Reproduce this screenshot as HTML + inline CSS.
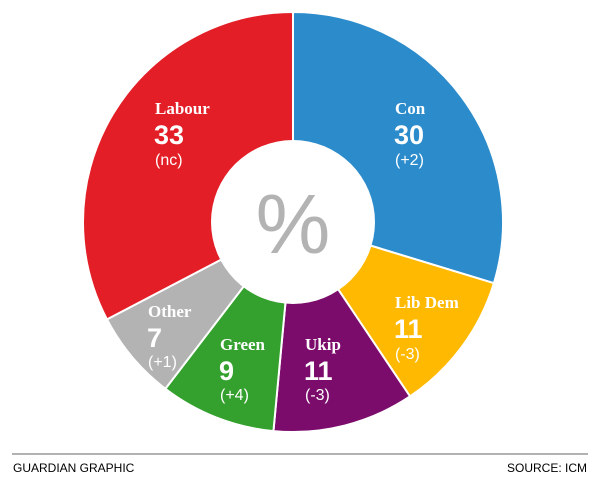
<!DOCTYPE html>
<html><head><style>
html,body{margin:0;padding:0;background:#fff;}
svg{display:block;}
.l{font-family:"Liberation Serif",serif;font-weight:bold;font-size:17px;fill:#fff;}
.n{font-family:"Liberation Sans",sans-serif;font-weight:bold;font-size:27px;fill:#fff;}
.c{font-family:"Liberation Sans",sans-serif;font-size:16px;fill:#fff;}
.f{font-family:"Liberation Sans",sans-serif;font-size:12px;fill:#000;}
</style></head><body>
<svg id="s" width="600" height="480" viewBox="0 0 600 480">
<g id="segs"></g>
<circle cx="293" cy="222" r="82" fill="#fff"/>
<text x="293" y="253" text-anchor="middle" font-family="Liberation Sans,sans-serif" font-size="84" fill="#b3b3b3">%</text>
<text class="l" x="155" y="114">Labour</text><text class="n" x="154" y="144">33</text><text class="c" x="155" y="165">(nc)</text>
<text class="l" x="395" y="114">Con</text><text class="n" x="394" y="144">30</text><text class="c" x="395" y="165">(+2)</text>
<text class="l" x="395" y="308">Lib Dem</text><text class="n" x="394" y="338">11</text><text class="c" x="395" y="359">(-3)</text>
<text class="l" x="305" y="350">Ukip</text><text class="n" x="304" y="380">11</text><text class="c" x="305" y="400">(-3)</text>
<text class="l" x="220" y="350">Green</text><text class="n" x="219" y="380">9</text><text class="c" x="220" y="400">(+4)</text>
<text class="l" x="148" y="317">Other</text><text class="n" x="147" y="347">7</text><text class="c" x="148" y="367">(+1)</text>
<line x1="12" y1="454" x2="588" y2="454" stroke="#999" stroke-width="1.5"/>
<text class="f" x="13" y="472">GUARDIAN GRAPHIC</text>
<text class="f" x="587" y="472" text-anchor="end">SOURCE: ICM</text>
</svg>
<script>
var d=[[30,"#2b8bcb"],[11,"#ffb900"],[11,"#7b0c6b"],[9,"#34a02d"],[7,"#b3b3b3"],[33,"#e31e26"]];
var cx=293,cy=222,R=210,tot=101,a=0,g=document.getElementById("segs"),h="";
function p(t,r){var x=cx+r*Math.sin(t),y=cy-r*Math.cos(t);return x.toFixed(2)+","+y.toFixed(2);}
d.forEach(function(s){var a0=a/tot*2*Math.PI;a+=s[0];var a1=a/tot*2*Math.PI;
h+='<path d="M'+cx+','+cy+' L'+p(a0,R)+' A'+R+','+R+' 0 '+((a1-a0)>Math.PI?1:0)+' 1 '+p(a1,R)+' Z" fill="'+s[1]+'" stroke="#fff" stroke-width="2"/>';});
g.innerHTML=h;
</script>
</body></html>
